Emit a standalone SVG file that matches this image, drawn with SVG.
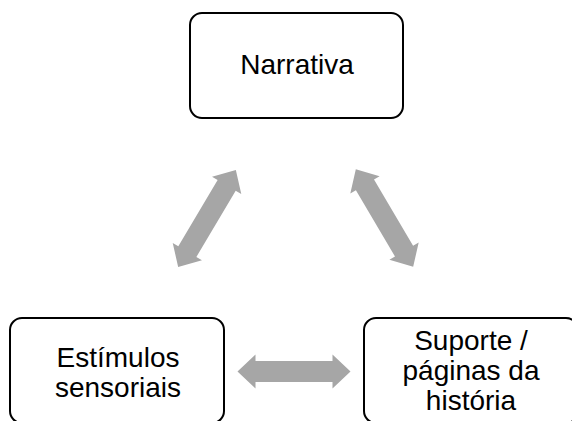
<svg xmlns="http://www.w3.org/2000/svg" width="572" height="421" viewBox="0 0 572 421">
<style>
.box{fill:#fff;stroke:#000;stroke-width:2}
.lbl{font-family:"Liberation Sans",Arial,sans-serif;font-size:28px;fill:#000;text-anchor:middle}
.arr{fill:#a6a6a6}
</style>
<defs>
<path id="dbl" d="M-56.5,0 L-38.5,-17 L-38.5,-10.5 L38.5,-10.5 L38.5,-17 L56.5,0 L38.5,17 L38.5,10.5 L-38.5,10.5 L-38.5,17 Z"/>
</defs>
<rect width="572" height="421" fill="#fff"/>
<g id="connectors" class="arr">
<use href="#dbl" transform="translate(207,218.5) rotate(-59.3)"/>
<use href="#dbl" transform="translate(384.5,218) rotate(59.5)"/>
<use href="#dbl" transform="translate(294,371.5)"/>
</g>
<g id="narrativa">
<rect class="box" x="190" y="13" width="213" height="105" rx="12"/>
<text class="lbl" x="297" y="74">Narrativa</text>
</g>
<g id="estimulos">
<rect class="box" x="10" y="318" width="214" height="105" rx="12"/>
<text class="lbl" x="118" y="367">Estímulos</text>
<text class="lbl" x="118" y="397">sensoriais</text>
</g>
<g id="suporte">
<rect class="box" x="364" y="318" width="214" height="105" rx="12"/>
<text class="lbl" x="471" y="350">Suporte /</text>
<text class="lbl" x="471" y="380">páginas da</text>
<text class="lbl" x="471" y="410">história</text>
</g>
</svg>
